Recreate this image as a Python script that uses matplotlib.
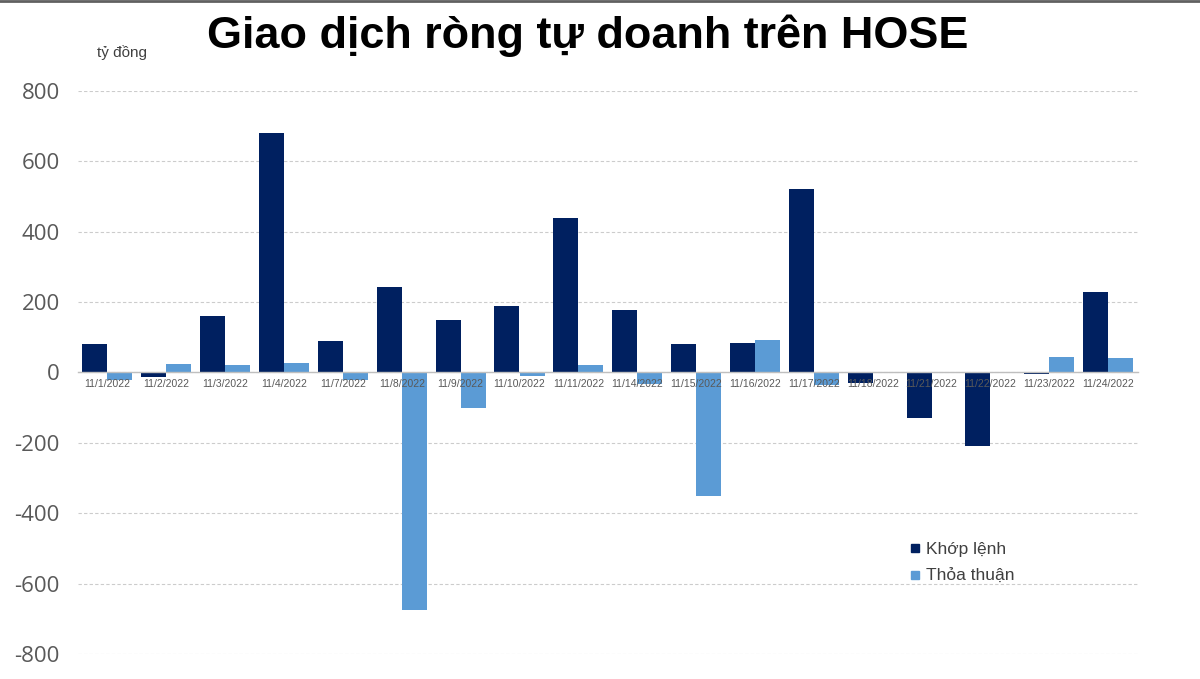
import matplotlib
matplotlib.use("Agg")
import matplotlib.pyplot as plt
import numpy as np
from matplotlib.lines import Line2D

categories = ["11/1/2022", "11/2/2022", "11/3/2022", "11/4/2022", "11/7/2022", "11/8/2022",
              "11/9/2022", "11/10/2022", "11/11/2022", "11/14/2022", "11/15/2022", "11/16/2022",
              "11/17/2022", "11/18/2022", "11/21/2022", "11/22/2022", "11/23/2022", "11/24/2022"]
khop_lenh = [81, -12, 160, 680, 90, 243, 149, 189, 439, 178, 81, 84, 521, -30, -129, -209, -5, 229]
thoa_thuan = [-20, 24, 21, 26, -20, -675, -101, -11, 21, -33, -351, 92, -35, 0, 0, 0, 44, 40]
yticks = [-800, -600, -400, -200, 0, 200, 400, 600, 800]

plt.rcParams['font.family'] = ['Liberation Sans', 'DejaVu Sans']

fig = plt.figure(figsize=(12, 6.79), dpi=100)
ax = fig.add_axes([0.065, 0.0368, 0.883, 0.8292])

x = np.arange(len(categories))
w = 0.425
c1 = '#002060'
c2 = '#5B9BD5'
ax.bar(x - w / 2, khop_lenh, width=w, color=c1, zorder=2, label='Khớp lệnh')
ax.bar(x + w / 2, thoa_thuan, width=w, color=c2, zorder=2, label='Thỏa thuận')

ax.set_xlim(-0.5, len(categories) - 0.5)
ax.set_ylim(-800, 800)
ax.set_yticks(yticks)
ax.set_yticklabels([str(v) for v in yticks], fontsize=16, color='#595959', family='Open Sans')
ax.tick_params(axis='y', length=0, pad=13)
ax.yaxis.grid(True, color='#cccccc', linestyle=(0, (3, 2)), linewidth=0.8, zorder=0)

for s in ['top', 'right', 'left']:
    ax.spines[s].set_visible(False)
ax.spines['bottom'].set_position(('data', 0))
ax.spines['bottom'].set_color('#bfbfbf')
ax.spines['bottom'].set_linewidth(1.0)
ax.spines['bottom'].set_zorder(3)
ax.set_xticks(x)
ax.set_xticklabels(categories, fontsize=7.5, color='#595959')
ax.tick_params(axis='x', length=0, pad=5)
ax.xaxis.set_zorder(5)

fig.text(0.49, 0.947, 'Giao dịch ròng tự doanh trên HOSE', fontsize=32.4, fontweight='bold',
         ha='center', va='center', color='black')
fig.text(0.081, 0.923, 'tỷ đồng', fontsize=11, color='#404040', ha='left', va='center')

handles = [Line2D([0], [0], marker='s', linestyle='none', markersize=6, color=c1),
           Line2D([0], [0], marker='s', linestyle='none', markersize=6, color=c2)]
fig.legend(handles, ['Khớp lệnh', 'Thỏa thuận'], loc='upper left',
           bbox_to_anchor=(0.742, 0.225), frameon=False, fontsize=12.5,
           labelcolor='#404040', handletextpad=0.15, labelspacing=0.7, handlelength=1.0)

fig.add_artist(Line2D([0, 1], [0.998, 0.998], transform=fig.transFigure, color='#606060', linewidth=2))

fig.savefig('out.png', dpi=100, facecolor='white')
